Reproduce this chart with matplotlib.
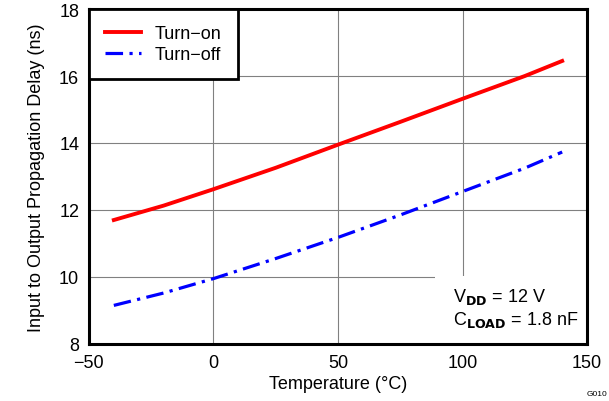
import matplotlib
matplotlib.use("Agg")
import matplotlib.pyplot as plt
from matplotlib.patches import Rectangle

plt.rcParams["font.family"] = ["Liberation Sans", "DejaVu Sans"]

temp = [-40, -20, 0, 25, 50, 75, 100, 125, 140]
turn_on = [11.70, 12.13, 12.62, 13.26, 13.95, 14.63, 15.32, 16.00, 16.45]
turn_off = [9.15, 9.52, 9.95, 10.55, 11.18, 11.85, 12.55, 13.25, 13.73]
x_ticks = [-50, 0, 50, 100, 150]
x_labels = ["\u221250", "0", "50", "100", "150"]
y_ticks = [8, 10, 12, 14, 16, 18]

fs = 13

fig = plt.figure(figsize=(6.09, 4.02), dpi=100)
ax = fig.add_axes([0.146, 0.142, 0.818, 0.833])

ax.plot(temp, turn_on, color="#ff0000", lw=2.8, label="Turn\u2212on", zorder=3)
ax.plot(temp, turn_off, color="#0000ff", lw=2.3, dashes=(5.5, 2, 1, 2),
        label="Turn\u2212off", zorder=3)

ax.set_xlim(-50, 150)
ax.set_ylim(8, 18)
ax.set_xticks(x_ticks)
ax.set_xticklabels(x_labels)
ax.set_yticks(y_ticks)
ax.tick_params(length=0, labelsize=fs, pad=7)
ax.grid(True, color="#808080", lw=0.8)
ax.set_axisbelow(True)
for s in ax.spines.values():
    s.set_linewidth(2.2)
    s.set_zorder(5)

ax.set_xlabel("Temperature (\u00b0C)", fontsize=fs, labelpad=3)
ax.set_ylabel("Input to Output Propagation Delay (ns)", fontsize=fs, labelpad=10)

leg = ax.legend(loc="upper left", fontsize=fs, fancybox=False, framealpha=1,
                edgecolor="black", borderaxespad=0, handlelength=2.0,
                handletextpad=0.75, borderpad=0.9, labelspacing=0.2)
leg.get_frame().set_linewidth(2)

# white area behind the condition note
ax.add_patch(Rectangle((0.695, 0), 0.305, 0.203, transform=ax.transAxes,
                       fc="white", ec="none", zorder=2))
ax.text(0.73, 0.172, "V$_{\\mathbf{DD}}$ = 12 V\nC$_{\\mathbf{LOAD}}$ = 1.8 nF",
        transform=ax.transAxes, ha="left", va="top", fontsize=fs,
        linespacing=1.15, zorder=4)

fig.text(0.998, 0.01, "G010", fontsize=6, ha="right", va="bottom")

fig.savefig("out.png", dpi=100)
